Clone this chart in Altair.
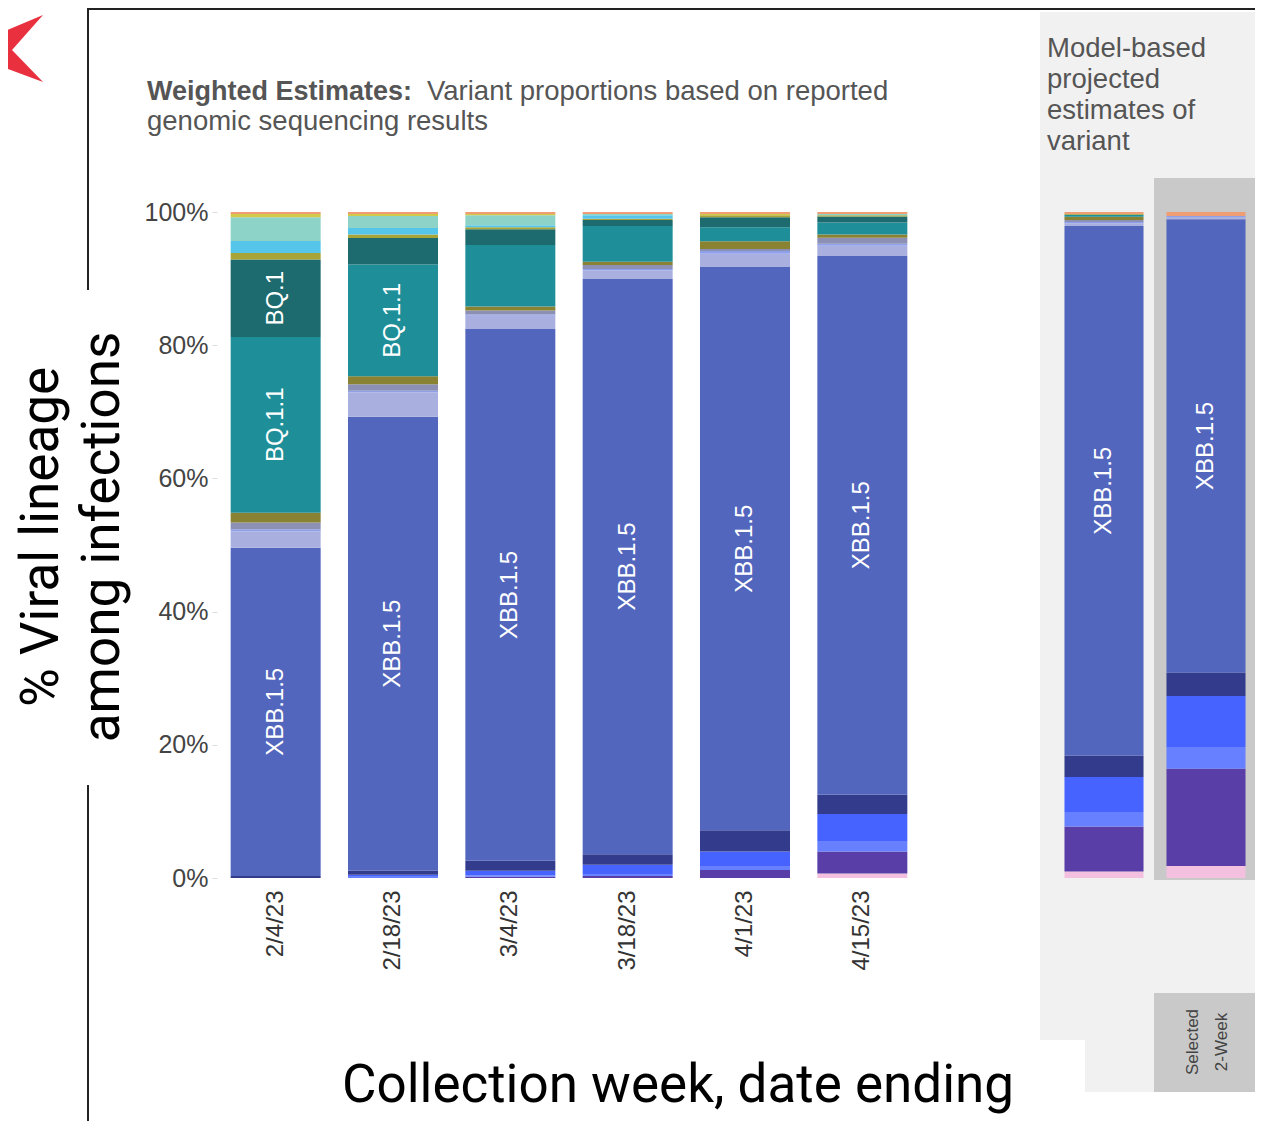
import altair as alt
import pandas as pd

# ---------------- data ----------------
dates_weighted = ["2/4/23", "2/18/23", "3/4/23", "3/18/23", "4/1/23", "4/15/23"]
dates_nowcast = ["4/29/23", "5/13/23"]
dates = dates_weighted + dates_nowcast

# lineages listed bottom -> top of each stacked bar (percent of sequences)
lineages = ["XBB.2.3", "XBB.1.16", "XBB.1.9.2", "XBB.1.9.1", "XBB.1.5.1", "XBB.1.5",
            "XBB", "XBB.1", "CH.1.1", "BN.1", "BQ.1.1", "BQ.1", "BF.7",
            "BA.5.2.6", "BA.5", "BA.2.75", "Other"]
colors = ["#F3C1DF", "#5A3EA8", "#6680FF", "#4763FF", "#333C8C", "#5366BD",
          "#A9B0E0", "#8FA0EA", "#8C90B5", "#8A8233", "#1E8F99", "#1D6B6E", "#A8A437",
          "#55C6EA", "#8ED3C8", "#D2C84A", "#EE9E72"]

xbb_2_3 = [0, 0, 0, 0, 0, 0.7, 1.0, 1.8]
xbb_1_16 = [0, 0, 0.2, 0.3, 1.2, 3.3, 6.8, 14.7]
xbb_1_9_2 = [0, 0.2, 0.2, 0.2, 0.6, 1.5, 2.2, 3.3]
xbb_1_9_1 = [0, 0.3, 0.7, 1.5, 2.2, 4.2, 5.3, 7.7]
xbb_1_5_1 = [0.3, 0.6, 1.5, 1.6, 3.2, 2.9, 3.2, 3.5]
xbb_1_5 = [49.7, 68.3, 80.5, 86.8, 85.1, 81.7, 80.2, 68.5]
xbb = [2.5, 3.7, 2.0, 1.3, 2.0, 1.5, 0.4, 0.3]
xbb_1 = [0.3, 0.2, 0.2, 0.2, 0.4, 0.3, 0.2, 0.2]
ch_1_1 = [1.0, 1.0, 0.6, 0.6, 0.3, 0.9, 0.3, 0]
bn_1 = [1.5, 1.2, 0.6, 0.5, 1.2, 0.5, 0.5, 0]
bq_1_1 = [26.6, 16.8, 9.3, 5.4, 2.1, 1.8, 0.3, 0]
bq_1 = [11.7, 4.0, 2.4, 0.9, 1.5, 0.9, 0, 0]
bf_7 = [1.0, 0.5, 0.3, 0.2, 0.3, 0.2, 0.1, 0]
ba_5_2_6 = [1.8, 1.0, 0.3, 0.5, 0, 0, 0, 0]
ba_5 = [3.6, 1.8, 1.5, 0.2, 0, 0.2, 0, 0]
ba_2_75 = [0.5, 0.3, 0.2, 0, 0.2, 0, 0, 0]
other = [0.3, 0.3, 0.3, 0.3, 0.3, 0.3, 0.3, 0.6]

series = [xbb_2_3, xbb_1_16, xbb_1_9_2, xbb_1_9_1, xbb_1_5_1, xbb_1_5, xbb, xbb_1,
          ch_1_1, bn_1, bq_1_1, bq_1, bf_7, ba_5_2_6, ba_5, ba_2_75, other]

labelled = ["XBB.1.5", "BQ.1.1", "BQ.1"]
y_ticks = [0, 0.2, 0.4, 0.6, 0.8, 1.0]

rows = []
for j, d in enumerate(dates):
    total = sum(s[j] for s in series)
    acc = 0.0
    for name, vals in zip(lineages, series):
        v = vals[j] / total
        if v <= 0:
            continue
        rows.append(dict(date=d, lineage=name, y0=acc, y1=acc + v, mid=acc + v / 2,
                         share=v, label=name if (name in labelled and v > 0.1) else ""))
        acc += v
df = pd.DataFrame(rows)
df_w = df[df["date"].isin(dates_weighted)]
df_n = df[df["date"].isin(dates_nowcast)]

# ---------------- scales / axes ----------------
W, H = 1247, 1113
FONT = "Liberation Sans"

yscale = alt.Scale(domain=[0, 1], range=[870, 204], nice=False, zero=False)


def yaxis():
    return alt.Axis(format=".0%", values=y_ticks, orient="left", offset=-209,
                    labelFontSize=25, labelColor="#444", labelFont=FONT,
                    tickColor="#dddddd", tickSize=5, domain=False, grid=False,
                    title=None, labelPadding=4)


color = alt.Color("lineage:N", scale=alt.Scale(domain=lineages, range=colors), legend=None)


def xaxis():
    return alt.Axis(orient="bottom", offset=-243, labelAngle=270, labelFontSize=24,
                    labelColor="#333", labelFont=FONT, ticks=False, domain=False,
                    title=None, labelPadding=12, grid=False)


xs_w = alt.Scale(domain=dates_weighted, range=[209, 913], paddingInner=0.233, paddingOuter=0.1165)
xs_n = alt.Scale(domain=dates_nowcast, range=[1045, 1249], paddingInner=0.225, paddingOuter=0.1125)

bars_w = alt.Chart(df_w).mark_bar(strokeWidth=0).encode(
    x=alt.X("date:N", scale=xs_w, axis=xaxis(), sort=dates_weighted),
    y=alt.Y("y1:Q", scale=yscale, axis=yaxis()),
    y2="y0:Q",
    color=color,
)
bars_n = alt.Chart(df_n).mark_bar(strokeWidth=0).encode(
    x=alt.X("date:N", scale=xs_n, axis=xaxis(), sort=dates_nowcast),
    y=alt.Y("y1:Q", scale=yscale, axis=yaxis()),
    y2="y0:Q",
    color=color,
)
lab_style = dict(angle=270, align="center", baseline="middle", color="white",
                 fontSize=24, font=FONT)
labels_w = alt.Chart(df_w[df_w["label"] != ""]).mark_text(**lab_style).encode(
    x=alt.X("date:N", scale=xs_w, axis=None, sort=dates_weighted),
    y=alt.Y("mid:Q", scale=yscale, axis=yaxis()),
    text="label:N",
)
labels_n = alt.Chart(df_n[df_n["label"] != ""]).mark_text(**lab_style).encode(
    x=alt.X("date:N", scale=xs_n, axis=None, sort=dates_nowcast),
    y=alt.Y("mid:Q", scale=yscale, axis=yaxis()),
    text="label:N",
)

# ---------------- decorations ----------------
one = pd.DataFrame({"k": [0]})


def rect(x, x2, y, y2, col):
    return alt.Chart(one).mark_rect(color=col, strokeWidth=0).encode(
        x=alt.value(x), x2=alt.value(x2), y=alt.value(y), y2=alt.value(y2))


def rule(x, x2, y, y2, col="#222", w=2):
    return alt.Chart(one).mark_rule(color=col, strokeWidth=w).encode(
        x=alt.value(x), x2=alt.value(x2), y=alt.value(y), y2=alt.value(y2))


def text(s, x, y, size, **kw):
    return alt.Chart(one).mark_text(fontSize=size, **kw).encode(
        x=alt.value(x), y=alt.value(y), text=alt.value(s))


panel_bg = rect(1032, W, 4, 1032, "#F1F1F1")
panel_bg2 = rect(1077, W, 1032, 1084, "#F1F1F1")
sel_col = rect(1146, W, 170, 872, "#C9C9C9")
sel_box = rect(1146, W, 985, 1084, "#C9C9C9")

frame_top = rule(80, W, 1, 1)
frame_left1 = rule(80, 80, 0, 282)
frame_left2 = rule(80, 80, 777, H)

arrow_path = "M-0.647,-0.456 L0.618,-0.985 L-0.294,0.044 L0.618,0.985 L-0.647,0.515 Z"
arrow = alt.Chart(one).mark_point(shape=arrow_path, filled=True, color="#E8303F",
                                  opacity=1, strokeWidth=0, size=4624).encode(
    x=alt.value(14), y=alt.value(40.5))

title_bold = text("Weighted Estimates:", 139, 92, 27, font=FONT, fontWeight="bold",
                  color="#555", align="left", baseline="alphabetic")
title_reg = text("Variant proportions based on reported", 419, 92, 27.5, font=FONT,
                 color="#555", align="left", baseline="alphabetic")
title_reg2 = text("genomic sequencing results", 139, 122, 27.5, font=FONT,
                  color="#555", align="left", baseline="alphabetic")
model_title = text(["Model-based", "projected", "estimates of", "variant"], 1039, 49, 27.5,
                   font=FONT, color="#555", align="left", baseline="alphabetic",
                   lineHeight=31)
sel_t1 = text("Selected", 1185, 1034, 17, font=FONT, color="#444", angle=270,
              align="center", baseline="middle")
sel_t2 = text("2-Week", 1214, 1034, 17, font=FONT, color="#444", angle=270,
              align="center", baseline="middle")

ytitle1 = text("% Viral lineage", 34, 529, 53, font="Roboto", color="black", angle=270,
               align="center", baseline="middle")
ytitle2 = text("among infections", 95, 529, 53, font="Roboto", color="black", angle=270,
               align="center", baseline="middle")
xtitle = text("Collection week, date ending", 670, 1094, 53, font="Roboto", color="black",
              align="center", baseline="alphabetic")

chart = alt.layer(
    panel_bg, panel_bg2, sel_col, sel_box, frame_top, frame_left1, frame_left2, arrow,
    title_bold, title_reg, title_reg2, model_title, sel_t1, sel_t2,
    ytitle1, ytitle2, xtitle,
    bars_w, bars_n, labels_w, labels_n,
).resolve_scale(x="independent").properties(
    width=W, height=H, padding=0, autosize=alt.AutoSizeParams(type="none")
).configure_view(stroke=None)

chart.save("out.html", embed_options={"renderer": "svg", "actions": False})
